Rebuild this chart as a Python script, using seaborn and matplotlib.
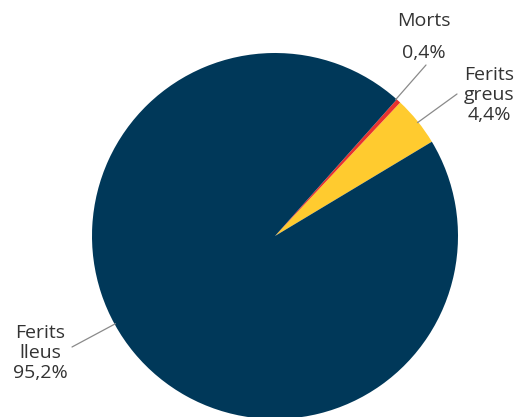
import numpy as np
import matplotlib
matplotlib.use("Agg")
import matplotlib.pyplot as plt
import seaborn as sns

categories = ["Ferits greus", "Morts", "Ferits lleus"]
values = [4.4, 0.4, 95.2]
labels = ["Ferits\ngreus\n4,4%", "Morts\n0,4%", "Ferits\nlleus\n95,2%"]
colors = ["#FFCB2F", "#E8322E", "#003859"]

sns.set_theme(style="white")
plt.rcParams['font.family'] = ['Open Sans', 'DejaVu Sans']

W, H = 519, 417
fig = plt.figure(figsize=(W / 100, H / 100), dpi=100)
ax = fig.add_axes([0, 0, 1, 1])

cx, cy, R = 275, 236, 183  # pixel center & radius (from top)

def px(x, y):
    return ((x - cx) / R, (cy - y) / R)

wedges, _ = ax.pie(values, colors=colors, startangle=31, counterclock=True,
                   radius=1.0, center=(0, 0), frame=True,
                   wedgeprops=dict(linewidth=0))

ax.set_xlim(-cx / R, (W - cx) / R)
ax.set_ylim(-(H - cy) / R, cy / R)
ax.set_aspect('auto')
ax.axis('off')

line_ang = [38.5, 48.5, 208.8]
line_end = [px(457, 94), px(426, 65), px(72, 347)]
text_pos = [px(489, 95), px(424, 37), px(40, 353)]
text_gap = [1.12, 2.05, 1.12]

for lab, a, end, tp, ls in zip(labels, line_ang, line_end, text_pos, text_gap):
    r = np.deg2rad(a)
    start = (np.cos(r) * 0.995, np.sin(r) * 0.995)
    ax.plot([start[0], end[0]], [start[1], end[1]], color="#8a8a8a", lw=0.9)
    ax.text(tp[0], tp[1], lab, ha="center", va="center", fontsize=14,
            color="#333333", linespacing=ls)

fig.savefig("out.png", dpi=100)
